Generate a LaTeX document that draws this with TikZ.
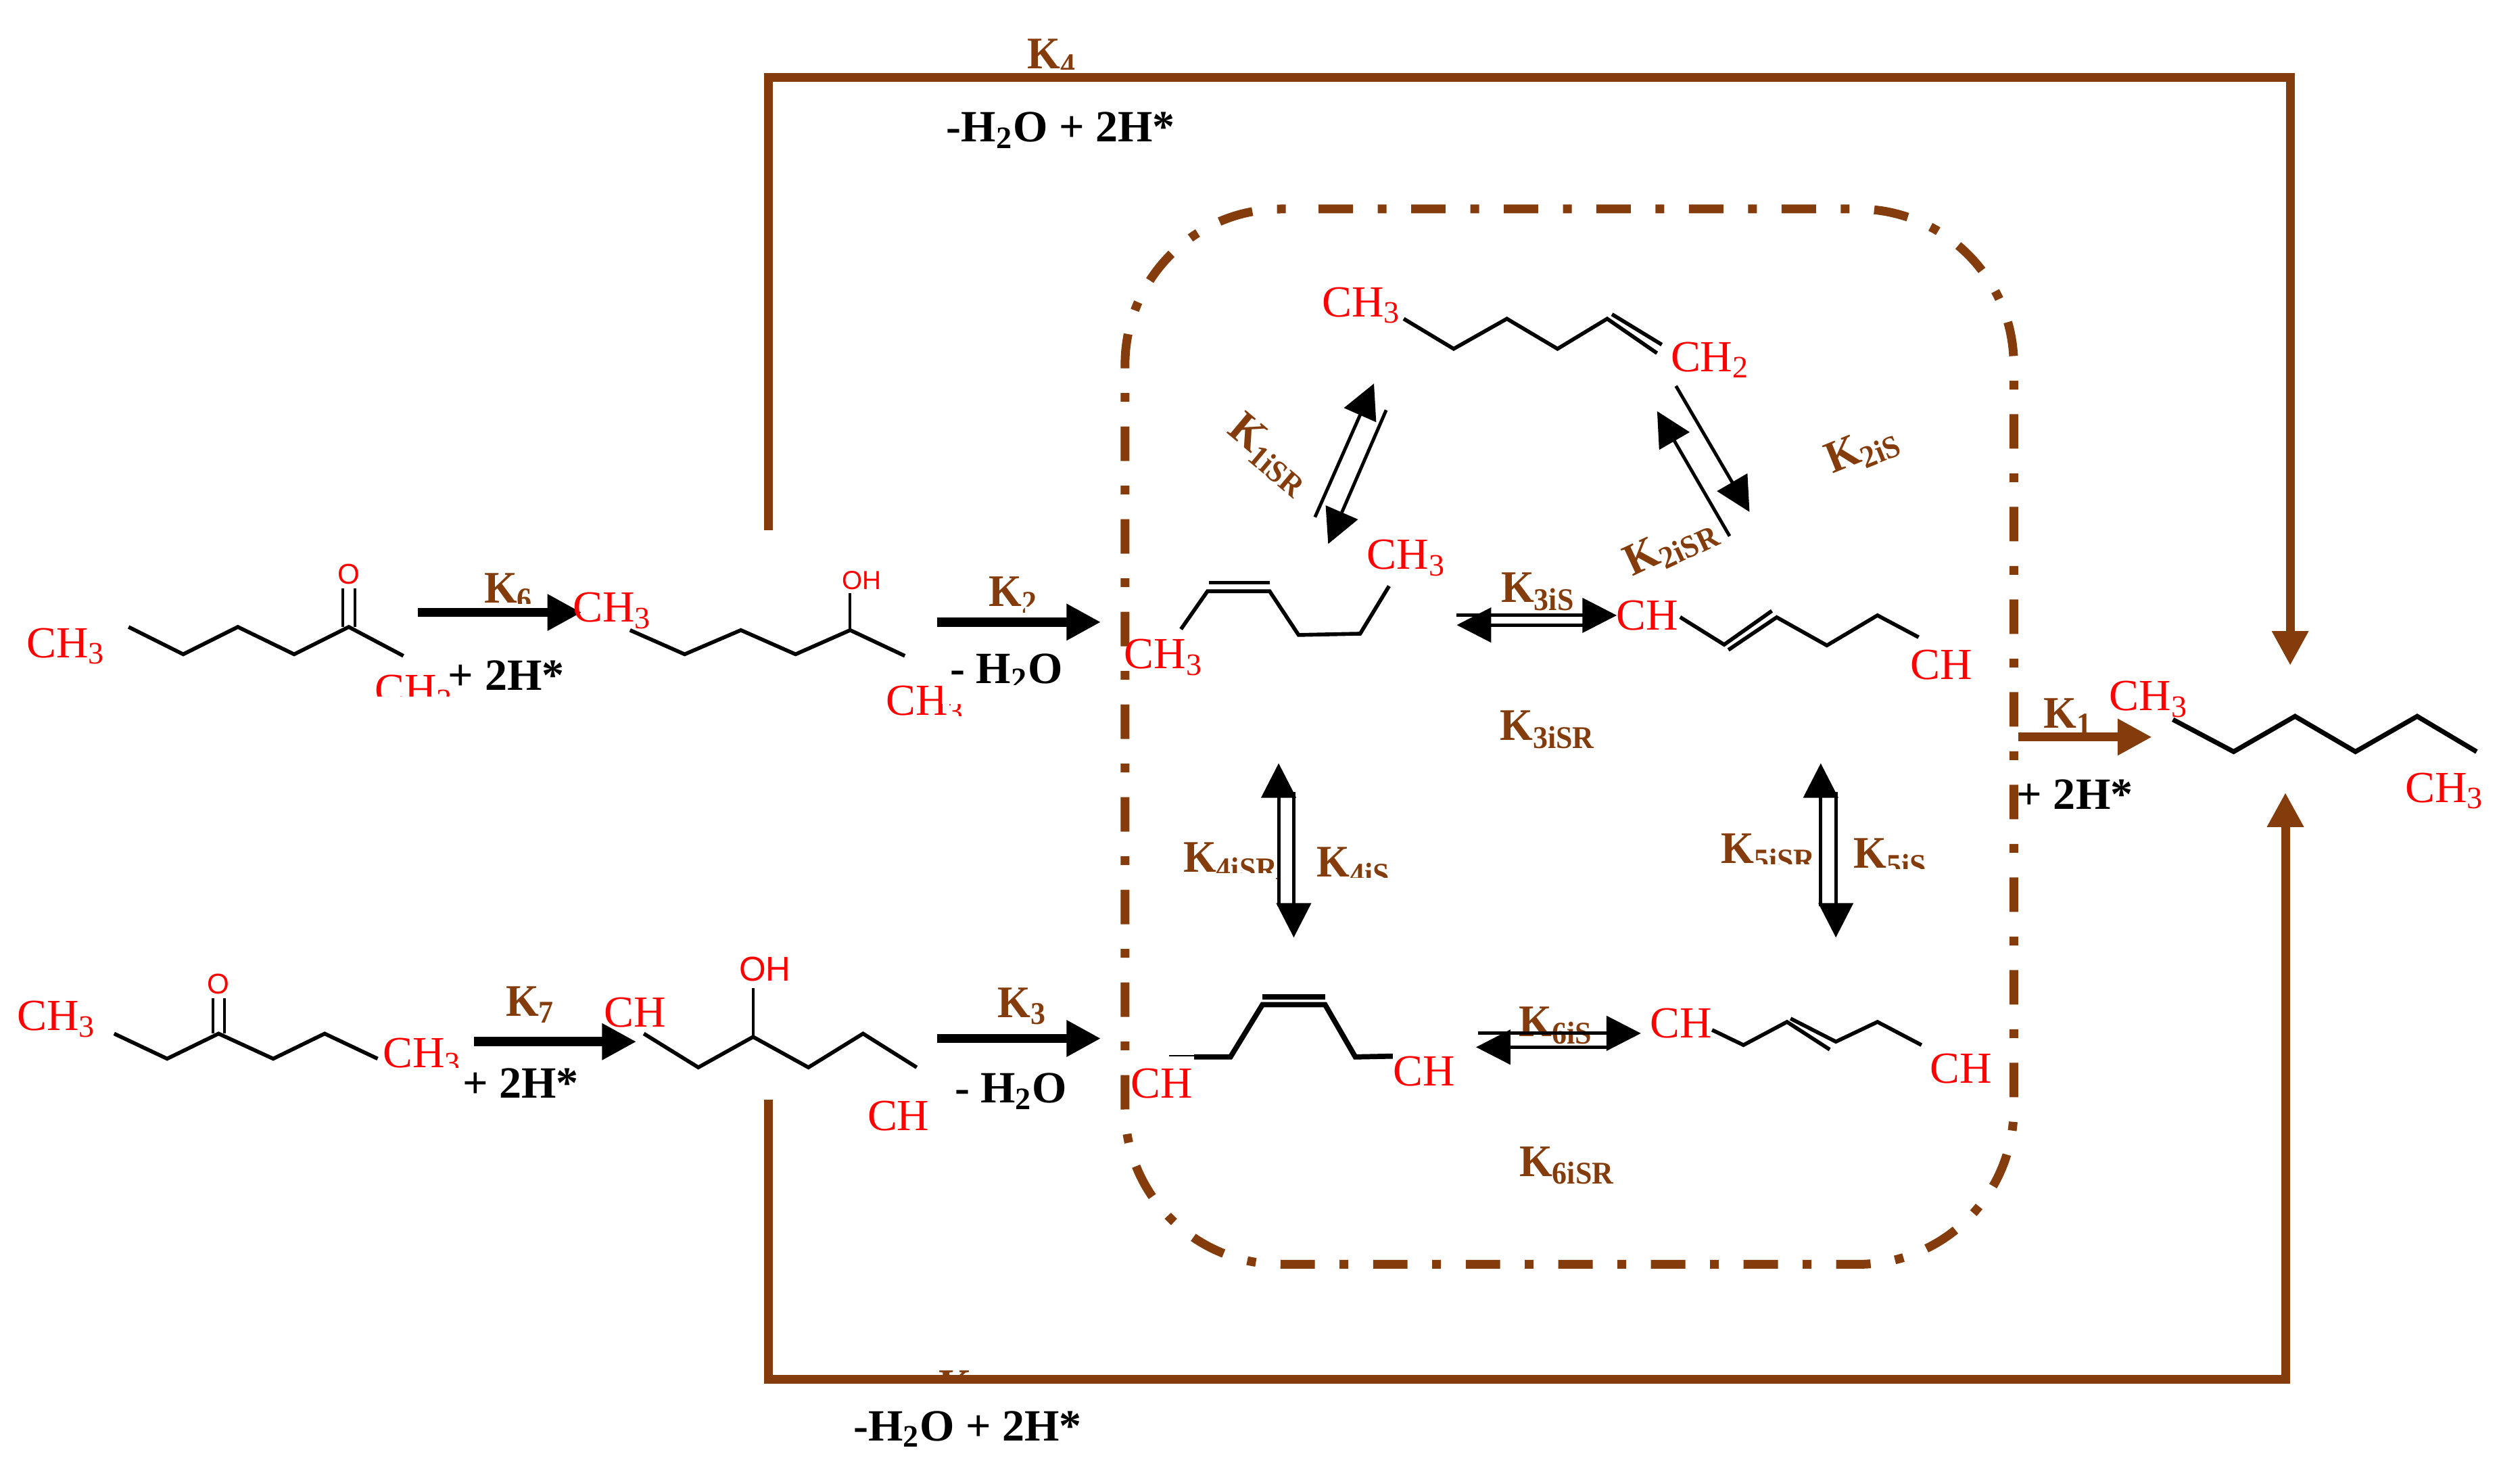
\documentclass[tikz,border=0pt]{standalone}
\usepackage{fontspec}
\setmainfont{Liberation Serif}
\newfontfamily\atomfont{Liberation Sans}
\newfontfamily\ratefont[FakeStretch=0.94]{Liberation Serif}
\usetikzlibrary{arrows.meta, positioning}
\definecolor{rust}{HTML}{843C0C}
\tikzset{
	atomlabel/.style={text=red, inner sep=0pt, font=\fontsize{18.7}{22}\selectfont},
	oxlabel/.style={text=red, inner sep=0pt, font=\atomfont\fontsize{12}{14}\selectfont},
	ratelabel/.style={text=rust, inner sep=0pt, font=\ratefont\bfseries\fontsize{19}{22}\selectfont},
	steplabel/.style={text=black, inner sep=0pt, font=\bfseries\fontsize{18.8}{22}\selectfont},
	bond/.style={line width=1.6pt, line join=miter},
	fatarrow/.style={line width=3.9pt, -{Triangle[length=14.5pt,width=14.5pt]}},
	thinarrow/.style={line width=1.4pt, -{Triangle[length=14.5pt,width=14.5pt]}},
	rustarrow/.style={rust, line width=3.7pt, line join=miter, -{Triangle[length=14.5pt,width=14.5pt]}},
	bubble/.style={rust, line width=3.7pt, rounded corners=2.306cm, dash pattern=on 14.5pt off 10.4pt on 3.7pt off 10.38pt}
}

\begin{document}
\begin{tikzpicture}[x=0.02377cm, y=-0.02377cm]
	\useasboundingbox (0,0) rectangle (1568,916);

	% Etiquetas de las constantes
	\node[ratelabel, anchor=base west] (K4) at (639,42.8) {K\textsubscript{4}};
	\node[ratelabel, anchor=base west] (K5) at (584,871) {K\textsubscript{5}};
	\node[ratelabel, anchor=base west] (K6) at (301,375) {K\textsubscript{6}};
	\node[ratelabel, anchor=base west] (K2) at (615,377) {K\textsubscript{2}};
	\node[ratelabel] (K7) at (330,625) {K\textsubscript{7}};
	\node[ratelabel] (K3) at (636,626) {K\textsubscript{3}};
	\node[ratelabel] (K1) at (1287,446) {K\textsubscript{1}};
	\node[ratelabel, rotate=-40] (K1iSR) at (790,283) {K\textsubscript{1iSR}};
	\node[ratelabel, rotate=25] (K2iSR) at (1040,340) {K\textsubscript{2iSR}};
	\node[ratelabel, rotate=22] (K2iS) at (1159,280) {K\textsubscript{2iS}};
	\node[ratelabel] (K3iS) at (957,368) {K\textsubscript{3iS}};
	\node[ratelabel] (K3iSR) at (963,454) {K\textsubscript{3iSR}};
	\node[ratelabel, anchor=base west] (K4iSR) at (736,542.4) {K\textsubscript{4iSR}};
	\node[ratelabel, anchor=base west] (K4iS) at (819,545.6) {K\textsubscript{4iS}};
	\node[ratelabel, anchor=base west] (K5iSR) at (1070.5,537) {K\textsubscript{5iSR}};
	\node[ratelabel, anchor=base west] (K5iS) at (1153,540) {K\textsubscript{5iS}};
	\node[ratelabel] (K6iS) at (968,638) {K\textsubscript{6iS}};
	\node[ratelabel] (K6iSR) at (975,725) {K\textsubscript{6iSR}};

	% Textos recortados
	\node[atomlabel, anchor=base west] (CHb) at (233,438) {CH\textsubscript{3}};
	\node[atomlabel, anchor=base west] (CHd) at (551,445) {CH\textsubscript{3}};
	\node[atomlabel, anchor=base west] (CHf) at (238,664) {CH\textsubscript{3}};
	\node[steplabel, anchor=base west] (waterA) at (591,425) {- H\textsubscript{2}O};
	\fill[white] (228,433.5) rectangle (290,446);
	\fill[white] (546,445.5) rectangle (602,456);
	\fill[white] (234,664.5) rectangle (290,674);
	\fill[white] (586,426) rectangle (668,438);
	\fill[white] (320,375.5) rectangle (336,384);
	\fill[white] (638,377.5) rectangle (652,386);
	\fill[white] (655,43.2) rectangle (674,50);
	\fill[white] (730,543) rectangle (794,552);
	\fill[white] (815,546) rectangle (866,555);
	\fill[white] (1066,537.5) rectangle (1129,547);
	\fill[white] (1149,540.5) rectangle (1199,550);
	\fill[white] (578,858) rectangle (620,881);

	% Reacciones externas
	\coordinate (topA) at (478,330);
	\coordinate (topB) at (478,48);
	\coordinate (topC) at (1425,48);
	\coordinate (topD) at (1425,414);
	\draw[rustarrow] (topA) -- (topB) -- (topC) -- (topD);
	\coordinate (lowA) at (478,684);
	\coordinate (lowB) at (478,858);
	\coordinate (lowC) at (1422,858);
	\coordinate (lowD) at (1422,493);
	\draw[rustarrow] (lowA) -- (lowB) -- (lowC) -- (lowD);

	% Recuadro de isomerización
	\draw[bubble] (820.4,130) -- (1253,130) -- (1253,786.5) -- (700,786.5) -- (700,130) -- (815,130);

	% Flechas gruesas
	\coordinate (r6a) at (260,381);
	\coordinate (r6b) at (362,381);
	\draw[fatarrow] (r6a) -- (r6b);
	\coordinate (r2a) at (583,387);
	\coordinate (r2b) at (685,387);
	\draw[fatarrow] (r2a) -- (r2b);
	\coordinate (r7a) at (295,648);
	\coordinate (r7b) at (396,648);
	\draw[fatarrow] (r7a) -- (r7b);
	\coordinate (r3a) at (583,646);
	\coordinate (r3b) at (685,646);
	\draw[fatarrow] (r3a) -- (r3b);
	\coordinate (r1a) at (1256,458.5);
	\coordinate (r1b) at (1339,458.5);
	\draw[rustarrow] (r1a) -- (r1b);

	% Flechas de equilibrio
	\coordinate (e1a) at (818.2,321.7);
	\coordinate (e1b) at (854.9,238.6);
	\draw[thinarrow] (e1a) -- (e1b);
	\coordinate (e1c) at (862.5,255.1);
	\coordinate (e1d) at (826.4,338.4);
	\draw[thinarrow] (e1c) -- (e1d);
	\coordinate (e2a) at (1042.8,240.1);
	\coordinate (e2b) at (1088.6,318.5);
	\draw[thinarrow] (e2a) -- (e2b);
	\coordinate (e2c) at (1076.2,333.5);
	\coordinate (e2d) at (1031.1,255.8);
	\draw[thinarrow] (e2c) -- (e2d);
	\coordinate (e3a) at (906.4,382.8);
	\coordinate (e3b) at (1006,382.8);
	\draw[thinarrow] (e3a) -- (e3b);
	\coordinate (e3c) at (987,388.8);
	\coordinate (e3d) at (906.4,388.8);
	\draw[thinarrow] (e3c) -- (e3d);
	\coordinate (e4a) at (795.6,563.8);
	\coordinate (e4b) at (795.6,474.8);
	\draw[thinarrow] (e4a) -- (e4b);
	\coordinate (e4c) at (805,492.6);
	\coordinate (e4d) at (805,583.2);
	\draw[thinarrow] (e4c) -- (e4d);
	\coordinate (e5a) at (1132.9,563.8);
	\coordinate (e5b) at (1132.9,474.8);
	\draw[thinarrow] (e5a) -- (e5b);
	\coordinate (e5c) at (1142.3,492.6);
	\coordinate (e5d) at (1142.3,583.2);
	\draw[thinarrow] (e5c) -- (e5d);
	\coordinate (e6a) at (919.6,642.8);
	\coordinate (e6b) at (1021,642.8);
	\draw[thinarrow] (e6a) -- (e6b);
	\coordinate (e6c) at (1000,651.4);
	\coordinate (e6d) at (918.4,651.4);
	\draw[thinarrow] (e6c) -- (e6d);

	% Moléculas
	\draw[bond] (80,390) -- (114,407) -- (148,390) -- (183,407) -- (217,390) -- (251,408);
	\draw[bond, line width=1.1pt] (213.3,390) -- (213.3,366);
	\draw[bond, line width=1.1pt] (220.7,390) -- (220.7,366);
	\draw[bond] (392,392) -- (426,407) -- (461,392) -- (495,407) -- (529,392) -- (563,408);
	\draw[bond, line width=1.1pt] (529,392) -- (529,369);
	\draw[bond] (71,643) -- (104,658.6) -- (136,643) -- (170,658.6) -- (202,643) -- (235,658.6);
	\draw[bond, line width=1.1pt] (132.6,643) -- (132.6,621);
	\draw[bond, line width=1.1pt] (139.6,643) -- (139.6,621);
	\draw[bond] (400.6,643) -- (434.5,664) -- (468.6,645) -- (503,664) -- (537,643) -- (570.4,664);
	\draw[bond, line width=1.1pt] (468.6,645) -- (468.6,614.6);

	\draw[bond] (873.4,198.3) -- (904.5,217) -- (937.6,198.3) -- (969.1,217) -- (1000,198.3) -- (1031,219.7);
	\draw[bond] (1003,195.5) -- (1034,214.4);
	\draw[bond] (734.8,391.4) -- (751.3,367.8) -- (790,367.8) -- (808,395) -- (846.3,394.2) -- (864.3,364.6);
	\draw[bond] (752.4,362.4) -- (790,362.4);
	\draw[bond] (1045.4,383.9) -- (1072.8,401) -- (1102.5,380);
	\draw[bond] (1075.4,404.3) -- (1105.5,384) -- (1136.7,401.5) -- (1168.2,382.8) -- (1193.8,396.4);
	\draw[bond, line width=0.6pt] (727.3,656.6) -- (743,656.6);
	\draw[bond, line width=2.2pt] (743,657.5) -- (765.6,657.5) -- (785.5,625) -- (824.5,625) -- (843.3,657.5) -- (866.6,657);
	\draw[bond, line width=2.2pt] (785.5,620) -- (824.5,620);
	\draw[bond] (1065.3,640.7) -- (1084.8,650.1) -- (1111.9,635.7) -- (1138.5,652.9);
	\draw[bond] (1114.1,633.6) -- (1142.3,648) -- (1168.2,635.7) -- (1195.6,650.1);
	\draw[bond, line width=2pt] (1352,447.6) -- (1389.8,467.6) -- (1428,445.6) -- (1465.6,467.6) -- (1504,445.6) -- (1541,467.6);

	% Átomos
	\node[atomlabel] (CHa) at (41,402) {CH\textsubscript{3}};
	\node[oxlabel] (Oa) at (217,357) {O};
	\node[atomlabel] (CHc) at (381,380) {CH\textsubscript{3}};
	\node[oxlabel, font=\atomfont\fontsize{11}{13}\selectfont] (OHa) at (536,361) {OH};
	\node[atomlabel] (CHe) at (35,634) {CH\textsubscript{3}};
	\node[oxlabel] (Ob) at (136,612) {O};
	\node[atomlabel] (CHg) at (395,630) {CH};
	\node[oxlabel, font=\atomfont\fontsize{14.5}{17}\selectfont] (OHb) at (476,603) {OH};
	\node[atomlabel] (CHh) at (559,694) {CH};
	\node[atomlabel] (CHi) at (847,190) {CH\textsubscript{3}};
	\node[atomlabel] (CHj) at (1064,224) {CH\textsubscript{2}};
	\node[atomlabel] (CHk) at (724,409) {CH\textsubscript{3}};
	\node[atomlabel] (CHl) at (875,347) {CH\textsubscript{3}};
	\node[atomlabel] (CHm) at (1025,383) {CH};
	\node[atomlabel] (CHn) at (1208,413.5) {CH};
	\node[atomlabel] (CHo) at (723,674) {CH};
	\node[atomlabel] (CHp) at (886,666.4) {CH};
	\node[atomlabel] (CHq) at (1046,636.4) {CH};
	\node[atomlabel] (CHr) at (1220,664.7) {CH};
	\node[atomlabel] (CHs) at (1337,435) {CH\textsubscript{3}};
	\node[atomlabel] (CHt) at (1521,492) {CH\textsubscript{3}};

	% Reactivos
	\node[steplabel] (waterB) at (660,81) {-H\textsubscript{2}O + 2H*};
	\node[steplabel] (waterC) at (602,889) {-H\textsubscript{2}O + 2H*};
	\node[steplabel] (hydroA) at (315,420) {+ 2H*};
	\node[steplabel] (hydroB) at (324,674) {+ 2H*};
	\node[steplabel] (hydroC) at (1291,494) {+ 2H*};
	\node[steplabel] (waterD) at (629,679) {- H\textsubscript{2}O};

\end{tikzpicture}
\end{document}
